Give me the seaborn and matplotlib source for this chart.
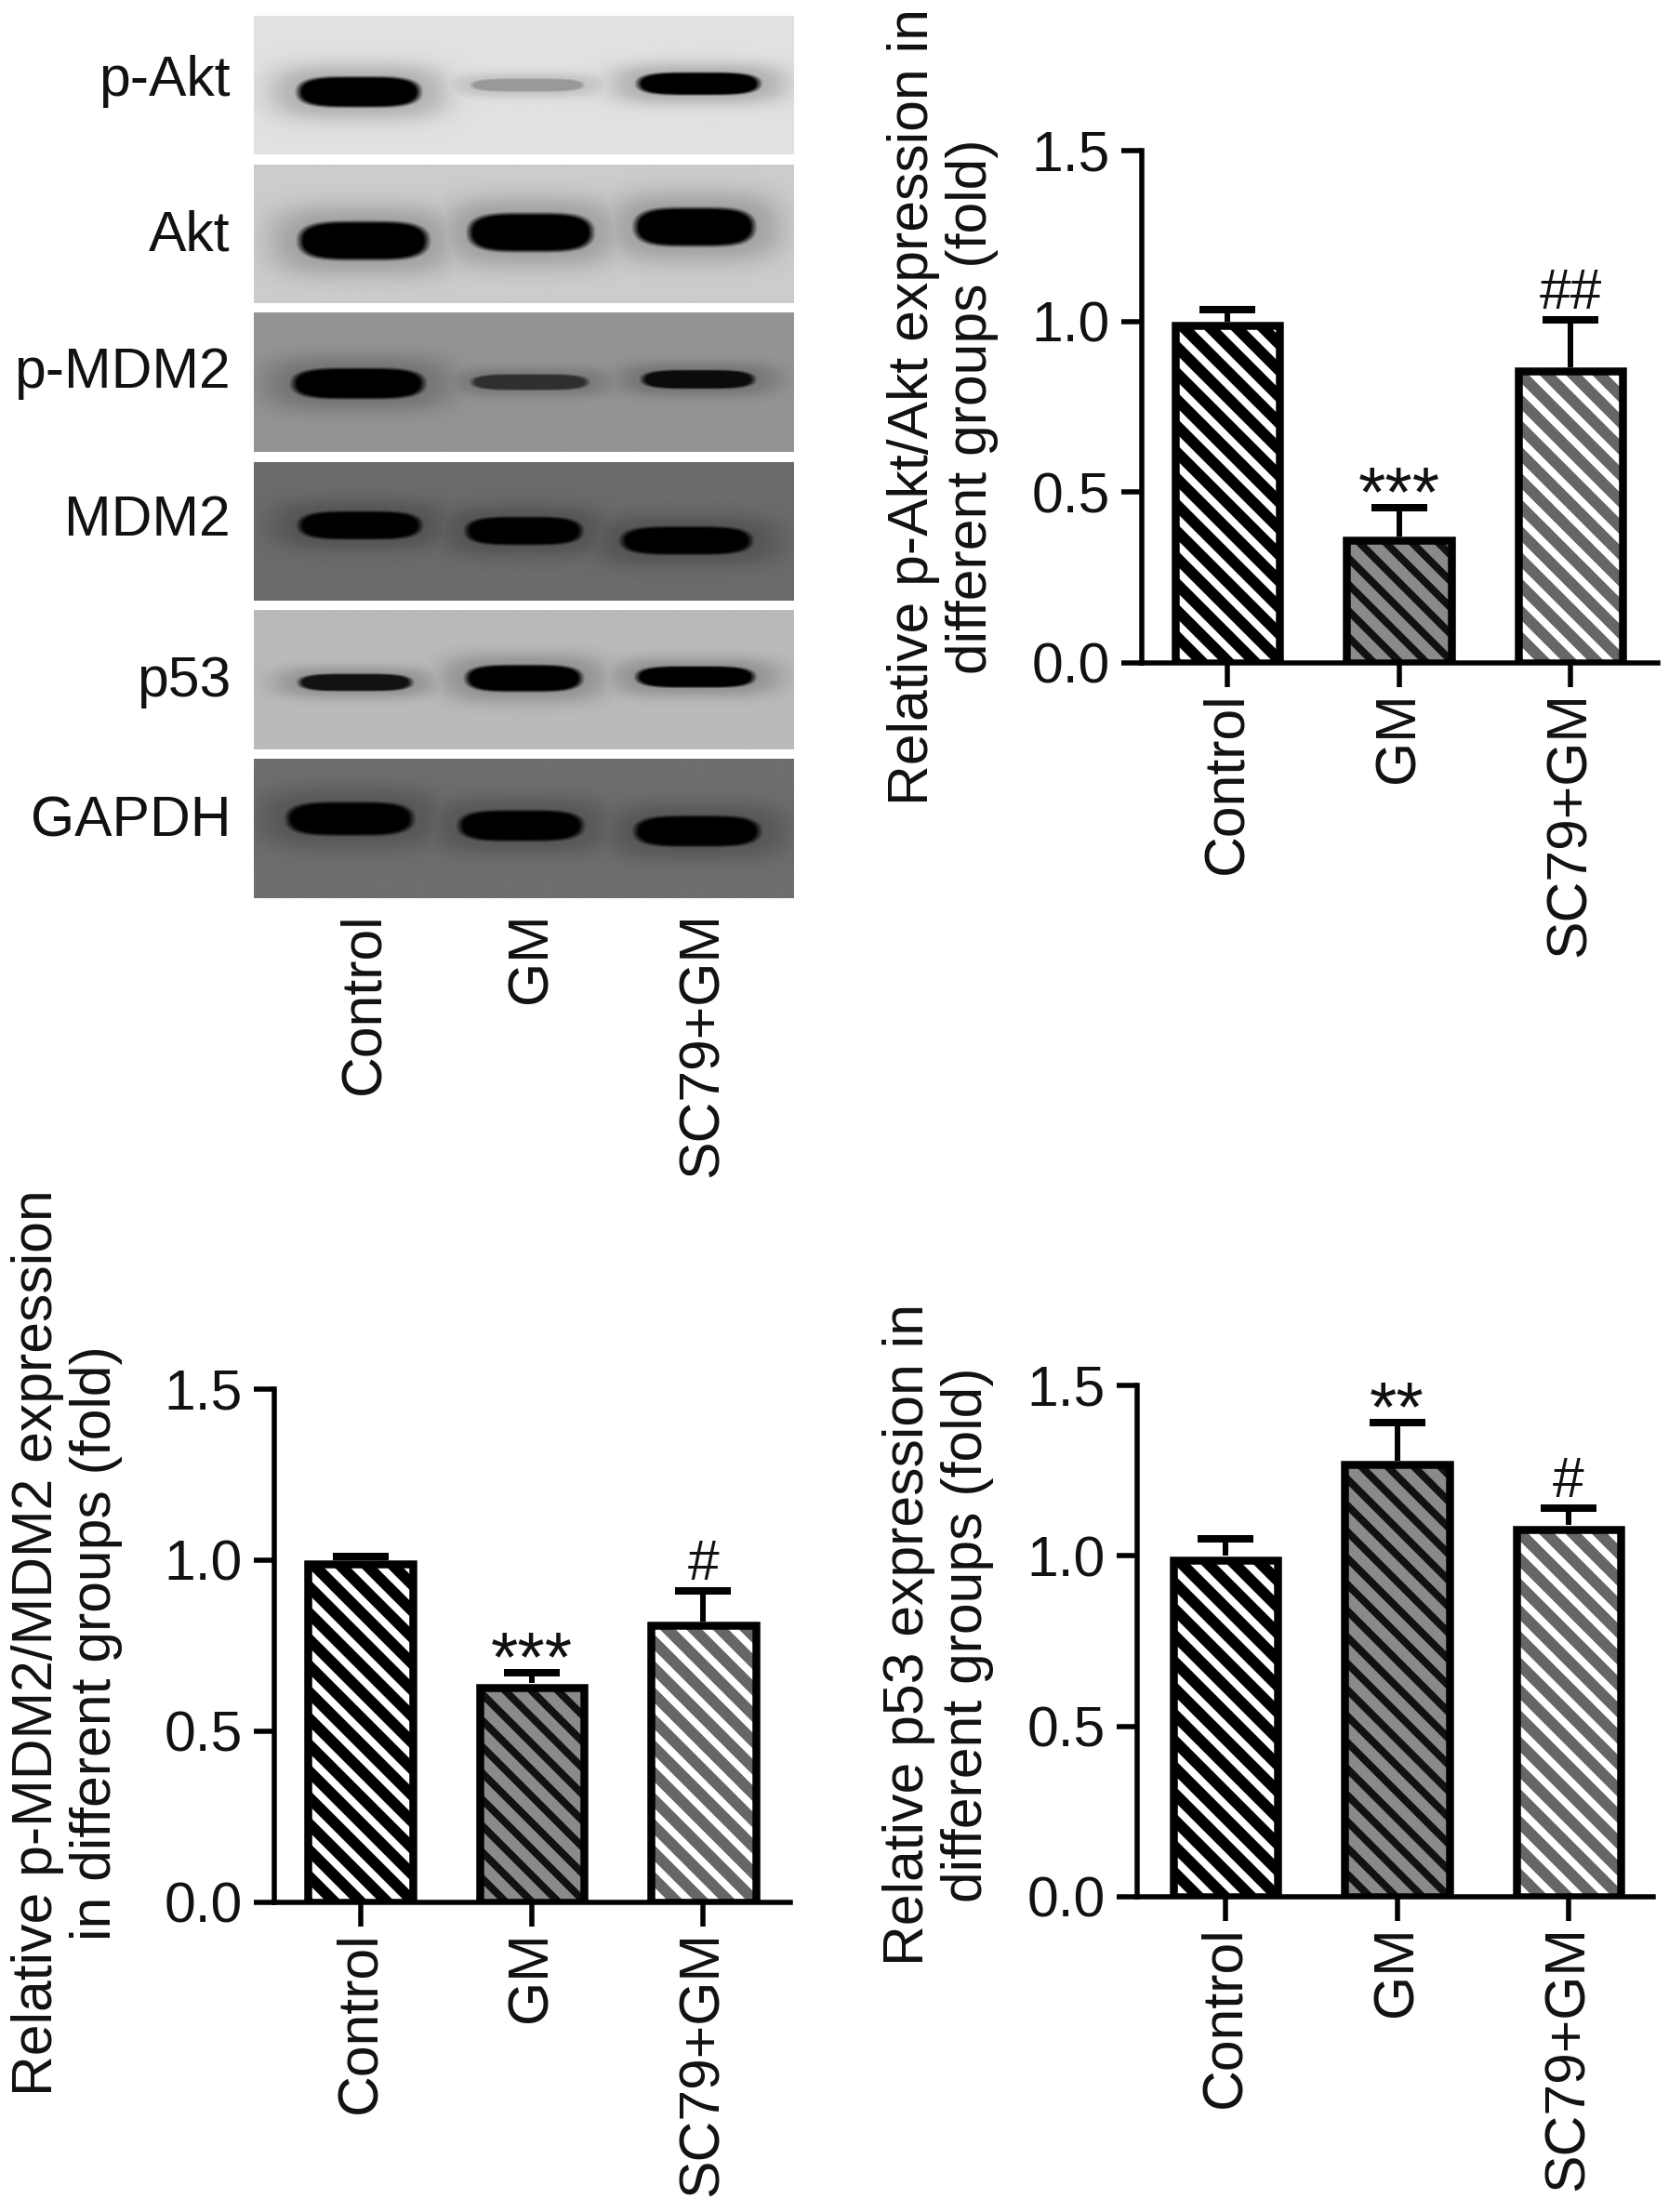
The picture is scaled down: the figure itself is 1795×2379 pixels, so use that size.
import numpy as np
import pandas as pd
import matplotlib
matplotlib.use("Agg")
import matplotlib.pyplot as plt
from matplotlib.patches import Rectangle
import seaborn as sns

W, H, DPI = 1795, 2379, 170
groups = ["Control", "GM", "SC79+GM"]

pakt_values = [1.00, 0.37, 0.865]
pakt_errors = [0.035, 0.085, 0.14]
pakt_marks = ["", "***", "##"]
pakt_label = "Relative p-Akt/Akt expression in\ndifferent groups (fold)"

pmdm2_values = [1.00, 0.64, 0.82]
pmdm2_errors = [0.01, 0.03, 0.09]
pmdm2_marks = ["", "***", "#"]
pmdm2_label = "Relative p-MDM2/MDM2 expression\nin different groups (fold)"

p53_values = [1.00, 1.28, 1.09]
p53_errors = [0.05, 0.11, 0.05]
p53_marks = ["", "**", "#"]
p53_label = "Relative p53 expression in\ndifferent groups (fold)"

y_ticks = [0.0, 0.5, 1.0, 1.5]

bar_faces = ["#000000", "#8a8a8a", "#666666"]
bar_hatches = ["#ffffff", "#111111", "#ffffff"]

# Western blot: protein, background grey, then per-lane band
# (left, right, centre y, height, darkness), fractions of the strip
blot_names = ["p-Akt", "Akt", "p-MDM2", "MDM2", "p53", "GAPDH"]
blot_bg = [0.88, 0.80, 0.58, 0.42, 0.73, 0.43]
blot_bands = [
    [(.078, .310, .55, .23, 1.0), (.398, .615, .50, .10, .32), (.708, .940, .49, .17, 1.0)],
    [(.080, .325, .55, .29, 1.0), (.395, .630, .49, .29, 1.0), (.703, .930, .45, .29, 1.0)],
    [(.068, .318, .51, .23, 1.0), (.400, .622, .50, .12, .68), (.716, .930, .48, .14, .92)],
    [(.080, .312, .46, .21, 1.0), (.390, .610, .50, .21, 1.0), (.678, .925, .57, .21, 1.0)],
    [(.080, .295, .52, .13, .90), (.390, .610, .49, .20, 1.0), (.706, .930, .48, .16, 1.0)],
    [(.058, .297, .43, .25, 1.0), (.377, .612, .48, .23, 1.0), (.703, .940, .52, .23, 1.0)],
]
blot_label_baselines = [103, 270, 417, 576, 749, 900]
blot_tops = [17, 177, 336, 497, 656, 816]
blot_bottoms = [166, 326, 486, 646, 806, 966]
blot_lane_x = [392, 572, 756]

sns.set_theme(style="ticks")
plt.rcParams["font.family"] = ["Liberation Sans", "DejaVu Sans"]
plt.rcParams["hatch.linewidth"] = 3.4

FS = 25.7
def pt(px):
    return px * 72 / DPI

fig = plt.figure(figsize=(W / DPI, H / DPI), dpi=DPI, facecolor="white")

def axes_px(l, t, r, b):
    return fig.add_axes([l / W, 1 - b / H, (r - l) / W, (b - t) / H])

def fig_xy(x, y):
    return x / W, 1 - y / H

def strip_image(bg, bands, nx=520, ny=120):
    xx, yy = np.meshgrid(np.linspace(0, 1, nx), np.linspace(0, 1, ny))
    dark = np.zeros_like(xx)
    for left, right, yc, hgt, depth in bands:
        xc, hw, hh = (left + right) / 2, (right - left) / 2, hgt / 2
        r = ((np.abs(xx - xc) / hw) ** 4 + (np.abs(yy - yc) / hh) ** 2.4) ** (1 / 2.4)
        core = np.clip((1.1 - r) / 0.25, 0, 1) * depth
        halo = 0.2 * np.exp(-(np.maximum(r - 0.9, 0) / 1.0) ** 2)
        dark = np.maximum(dark, np.maximum(core, halo * (0.4 + 0.6 * depth)))
    return bg * (1 - dark)

for name, bg, bands, top, bottom, base in zip(blot_names, blot_bg, blot_bands,
                                              blot_tops, blot_bottoms, blot_label_baselines):
    ax = axes_px(273, top, 854, bottom)
    ax.imshow(strip_image(bg, bands), cmap="gray", vmin=0, vmax=1, aspect="auto",
              interpolation="bilinear")
    ax.set_axis_off()
    x, y = fig_xy(248, base)
    fig.text(x, y, name, ha="right", va="baseline", fontsize=FS, color="#111111")

for lane, gx in zip(groups, blot_lane_x):
    x, y = fig_xy(gx, 981)
    fig.text(x, y, lane, rotation=90, ha="center", va="top", fontsize=FS, color="#111111")

def bar_panel(box, centre0, values, errors, marks, label, label_xy):
    l, t, r, b = box
    ax = axes_px(l, t, r, b)
    df = pd.DataFrame({"group": groups, "value": values})
    sns.barplot(data=df, x="group", y="value", hue="group", palette=bar_faces, legend=False,
                dodge=False, saturation=1, width=0.61, linewidth=0, ax=ax, zorder=2)
    step = 184.5
    ax.set_xlim(-(centre0 - l) / step, (r - centre0) / step)
    ax.set_ylim(0, 1.5)
    inset = 4.2 * 1.5 / (b - t)  # the border lies inside the bar's top
    for patch, hc in zip(list(ax.patches), bar_hatches):
        patch.set_hatch("\\\\")
        patch.set_edgecolor(hc)
        patch.set_linewidth(0)
        outline = Rectangle(patch.get_xy(), patch.get_width(), patch.get_height() - inset, fill=False,
                            edgecolor="black", linewidth=pt(8.5), zorder=4, joinstyle="miter")
        ax.add_patch(outline)
        patch.set_clip_path(outline)
    lower = np.zeros(len(values))
    eb = ax.errorbar(range(3), values, yerr=[lower, errors], fmt="none", ecolor="black",
                     elinewidth=pt(6), capsize=pt(30), capthick=pt(8), zorder=3, clip_on=False)
    eb.lines[1][0].set_visible(False)  # one-sided: no cap on the bar's top
    for i, (v, e, m) in enumerate(zip(values, errors, marks)):
        if not m:
            continue
        star = "*" in m
        ax.annotate(m, (i, v + e), xytext=(0, -8 if star else 12), textcoords="offset pixels",
                    ha="center", va="baseline", fontsize=32 if star else FS, color="#111111",
                    annotation_clip=False)
    sns.despine(ax=ax)
    for s in ("left", "bottom"):
        ax.spines[s].set_linewidth(pt(5.5))
        ax.spines[s].set_color("black")
    ax.set_yticks(y_ticks)
    ax.set_yticklabels([f"{v:.1f}" for v in y_ticks])
    ax.tick_params(axis="y", length=pt(22), width=pt(5.5), labelsize=FS, pad=pt(12), color="black",
                   labelcolor="#111111")
    ax.tick_params(axis="x", length=pt(26), width=pt(5.5), labelsize=FS, pad=pt(5), color="black",
                   labelcolor="#111111", labelrotation=90)
    ax.set_xlabel("")
    ax.set_ylabel("")
    x, y = fig_xy(*label_xy)
    fig.text(x, y, label, rotation=90, ha="center", va="center", ma="center", fontsize=FS,
             linespacing=1.15, color="#111111")

bar_panel((1228, 162, 1783, 713), 1320, pakt_values, pakt_errors, pakt_marks, pakt_label, (1014, 437))
bar_panel((295, 1494, 850, 2046), 387.5, pmdm2_values, pmdm2_errors, pmdm2_marks, pmdm2_label, (72, 1767))
bar_panel((1223, 1490, 1778, 2040), 1318, p53_values, p53_errors, p53_marks, p53_label, (1009, 1758))

fig.savefig("out.png", dpi=DPI, facecolor="white")
